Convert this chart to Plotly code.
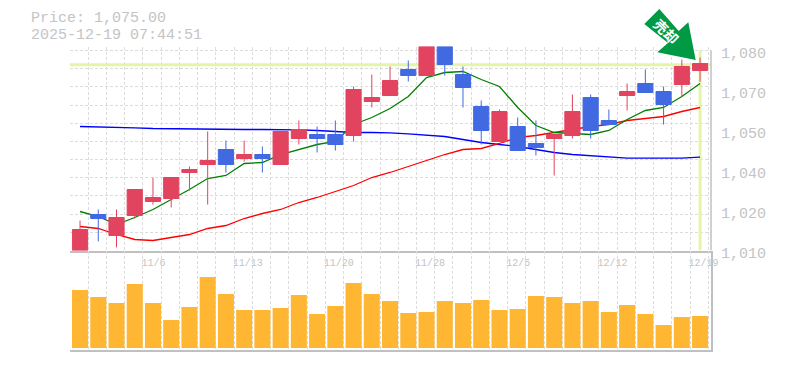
import plotly.graph_objects as go

W, H = 785, 370

open_ = [1010,1022.6,1015.25,1022.25,1027.15,1028.2,1037.3,1040.1,1045.35,1042.2,1043.6,1040.1,1049.2,1050.6,1050.6,1050.25,1062.15,1064.25,1073.35,1071.25,1081.4,1071.6,1060.4,1048.15,1053.4,1047.45,1049.2,1050.25,1063.55,1055.5,1064.25,1068.45,1065.65,1068.1,1073]
high = [1020.5,1024.35,1024.35,1031.35,1035.55,1035.55,1039.4,1051.65,1048.5,1048.5,1046.4,1051.65,1055.5,1053.4,1055.5,1067.4,1071.6,1074.4,1076.5,1081.4,1081.4,1074.4,1062.5,1059.35,1056.55,1055.5,1050.6,1064.6,1064.6,1059.35,1068.45,1073.35,1067.4,1076.85,1077.55]
low = [1010,1013.2,1011.1,1021.2,1026.1,1025.05,1031,1026.1,1037.3,1041.15,1037.3,1040.1,1047.1,1044.3,1045,1048.15,1060.05,1064.25,1069.15,1071.25,1071.25,1060.05,1047.1,1048.15,1045,1043.25,1036.25,1049.2,1049.2,1054.1,1059,1065.3,1054.1,1063.9,1069.15]
close = [1017.35,1021.2,1021.55,1031.35,1028.55,1035.55,1038.35,1041.5,1040.1,1043.6,1042.2,1051.65,1052.35,1049.2,1047.1,1066.35,1063.55,1069.5,1071.25,1081.4,1075.1,1067.05,1052,1058.65,1045,1046.05,1050.6,1058.65,1052,1054.1,1065.65,1065.3,1061.1,1074.4,1075.45]

ma_green = [1023.65,1021.9,1019.1,1021.55,1024.35,1027.85,1031.35,1035.2,1036.25,1040.45,1040.8,1043.6,1045.35,1047.1,1048.15,1054.1,1056.55,1059.7,1063.9,1070.55,1072.3,1072.65,1069.85,1067.4,1060.05,1053.75,1051.3,1050.95,1050.6,1052,1055.85,1059,1060.05,1063.9,1068.45]
ma_red = [1018.4,1017.7,1015.6,1013.85,1013.5,1014.55,1015.6,1017.7,1018.75,1021.2,1022.95,1024.35,1026.8,1028.55,1030.65,1032.75,1035.55,1037.3,1039.4,1041.5,1043.6,1045.35,1045.7,1047.45,1049.55,1050.25,1051.3,1052.35,1053.4,1054.1,1055.5,1056.2,1056.9,1058.65,1060.05]
ma_blue = [1053.4,1053.3,1053.05,1052.95,1052.7,1052.6,1052.45,1052.35,1052.35,1052.35,1052.35,1052.35,1052.25,1052,1051.65,1051.3,1051.3,1051.2,1050.8,1050.25,1049.9,1048.85,1047.8,1047.1,1046.4,1045.35,1044.3,1043.6,1043.25,1042.9,1042.3,1042.3,1042.3,1042.3,1042.7]

volume = [58,51,45,64,45,28,41,71,54,38,38,40,53,34,42,65,54,47,35,36,47,45,48,38,39,52,51,45,47,36,43,34,23,31,32]

date_ticks = [4, 9, 14, 19, 24, 29, 34]
date_labels = ["11/6", "11/13", "11/20", "11/28", "12/5", "12/12", "12/19"]
price_ticks = [1080, 1066, 1052, 1038, 1024, 1010]
price_labels = ["1,080", "1,070", "1,050", "1,040", "1,020", "1,010"]
current_price = 1075
title_lines = ["Price: 1,075.00", "2025-12-19 07:44:51"]
badge_text = "売却"

idx = list(range(len(close)))
MONO = "Liberation Mono"
GRID = "#dcdcdc"
AXIS = "#c0c0c0"
TEXT = "#c4c4c4"
DASH = "3px,2px"
x_range = [-0.55, 34.6]
x_dom = [70 / W, 711 / W]
slot_px = (711 - 70) / (x_range[1] - x_range[0])


def px(x):
    return x / W


def py(y):
    return 1 - y / H


# the labels start near the left edge of their candle's slot rather than being centred on it
label_pos = [t - 0.63 + len(s) * 3 / slot_px for t, s in zip(date_ticks, date_labels)]

fig = go.Figure()

# reference lines (below everything else)
fig.add_trace(go.Scatter(x=x_range, y=[current_price, current_price], mode="lines",
                         line=dict(color="#e4f5a8", width=3), hoverinfo="skip"))
fig.add_trace(go.Scatter(x=[idx[-1], idx[-1]], y=[1010, 1080], mode="lines",
                         line=dict(color="#e4f5a8", width=3), hoverinfo="skip"))
# moving averages
fig.add_trace(go.Scatter(x=idx, y=ma_blue, mode="lines", line=dict(color="#0000ff", width=1.3)))
fig.add_trace(go.Scatter(x=idx, y=ma_red, mode="lines", line=dict(color="#ff0000", width=1.3)))
fig.add_trace(go.Scatter(x=idx, y=ma_green, mode="lines", line=dict(color="#008000", width=1.3)))
# candles go on an overlay axis so that they are painted above the lines
fig.add_trace(go.Candlestick(
    x=idx, open=open_, high=high, low=low, close=close, yaxis="y3", whiskerwidth=0,
    increasing=dict(line=dict(color="#e2435f", width=1), fillcolor="#e2435f"),
    decreasing=dict(line=dict(color="#4169e1", width=1), fillcolor="#4169e1"),
))
fig.add_trace(go.Bar(x=idx, y=volume, xaxis="x2", yaxis="y2", marker=dict(color="#ffb733", line=dict(width=0)), width=0.88))

minor_x = dict(tickmode="linear", tick0=x_range[0], dtick=1, showgrid=True, gridcolor=GRID, griddash=DASH, gridwidth=1, ticks="")

fig.update_layout(
    width=W, height=H, margin=dict(l=0, r=0, t=0, b=0, autoexpand=False), autosize=False,
    paper_bgcolor="white", plot_bgcolor="white", showlegend=False,
    boxgap=0.17, boxgroupgap=0, barmode="overlay",
    xaxis=dict(domain=x_dom, range=x_range, anchor="y", tickmode="array", tickvals=label_pos, ticktext=date_labels,
               showgrid=False, zeroline=False, showline=True, linecolor=AXIS, linewidth=1.5,
               ticks="outside", ticklen=2, tickcolor="rgba(0,0,0,0)", rangeslider=dict(visible=False),
               tickfont=dict(family=MONO, size=10, color=TEXT), minor=minor_x),
    xaxis2=dict(domain=x_dom, range=x_range, anchor="y2", showticklabels=False, showgrid=False, zeroline=False,
                showline=True, linecolor=AXIS, linewidth=1.5, ticks="", minor=minor_x),
    yaxis=dict(domain=[py(250.5), py(46.5)], range=[1010, 1081.4], side="right", anchor="x",
               tickmode="array", tickvals=price_ticks, ticktext=price_labels, showgrid=False, zeroline=False,
               showline=False, ticks="", ticklabelstandoff=9, ticklabelshift=2,
               tickfont=dict(family=MONO, size=15, color=TEXT),
               minor=dict(tickmode="linear", tick0=1010, dtick=70 / 11, showgrid=True, gridcolor=GRID,
                          griddash=DASH, gridwidth=1, ticks="")),
    yaxis3=dict(overlaying="y", matches="y", side="right", visible=False, anchor="x"),
    yaxis2=dict(domain=[py(350), py(250.5)], range=[-2, 97.5], side="right", anchor="x2", showticklabels=False,
                showgrid=False, zeroline=False, showline=True, linecolor=AXIS, linewidth=1.5, ticks=""),
    shapes=[
        dict(type="line", xref="x domain", yref="y", x0=1, x1=1, y0=1010, y1=1080,
             line=dict(color=AXIS, width=1.5)),
        dict(type="path", xref="paper", yref="paper", layer="above", fillcolor="#009944", line=dict(width=0),
             path="M {} {} L {} {} L {} {} L {} {} L {} {} L {} {} L {} {} Z".format(
                 px(659.3), py(9), px(644.3), py(24), px(668), py(43), px(657.3), py(52.3),
                 px(695.7), py(60), px(688.3), py(22.3), px(678.7), py(31))),
    ],
    annotations=[
        dict(text=title_lines[0], x=px(28.5), y=py(18.5), xref="paper", yref="paper", xanchor="left", yanchor="middle",
             showarrow=False, font=dict(family=MONO, size=15, color=TEXT)),
        dict(text=title_lines[1], x=px(28.5), y=py(35), xref="paper", yref="paper", xanchor="left", yanchor="middle",
             showarrow=False, font=dict(family=MONO, size=15, color=TEXT)),
        dict(text="<b>" + badge_text + "</b>", x=px(666.5), y=py(30.5), xref="paper", yref="paper", textangle=45,
             xanchor="center", yanchor="middle",
             showarrow=False, font=dict(family="Noto Sans CJK JP", size=14, color="white")),
    ],
)

fig.write_html("out.html", config=dict(displayModeBar=False),
               post_script="document.body.style.margin='0';document.body.style.overflow='hidden';")
